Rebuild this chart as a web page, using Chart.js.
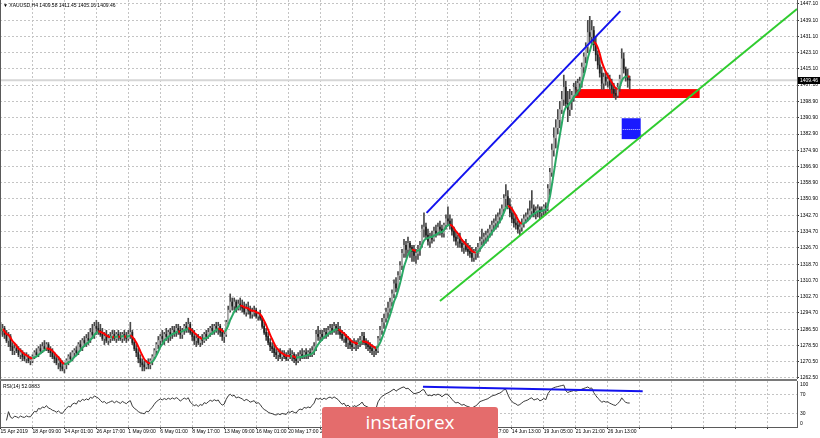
<!DOCTYPE html>
<html><head><meta charset="utf-8">
<script src="https://cdn.jsdelivr.net/npm/chart.js@4.4.1/dist/chart.umd.min.js"></script>
<style>
html,body{margin:0;padding:0;background:#fff;width:820px;height:438px;overflow:hidden;}
#wrap{position:relative;width:820px;height:438px;background:#fff;}
#cMain{position:absolute;left:0;top:0;width:820px;height:384px;}
#cRsi{position:absolute;left:0;top:379px;width:820px;height:59px;}
.lbl{position:absolute;font:5px "Liberation Sans",Arial,sans-serif;color:#000;white-space:nowrap;line-height:6px;}
#wm{position:absolute;left:322px;top:407px;width:176px;height:34px;background:#e46c6c;border-radius:3px;color:#fff;font:19px "Open Sans",sans-serif;text-align:center;line-height:31px;}
</style></head><body>
<div id="wrap">
<canvas id="cMain" width="820" height="384"></canvas>
<canvas id="cRsi" width="820" height="59"></canvas>
<div class="lbl" id="title" style="left:3px;top:2px;"></div>
<div class="lbl" id="rsiTitle" style="left:3px;top:383px;"></div>
<div id="wm">instaforex</div>
</div>
<script>
// ---------------- DATA ----------------
const symbol = "XAUUSD,H4";
const rsiCaption = "RSI(14) 52.0883";

const barClose = [
1286,1287,1284,1281,1283,1278,1276,1277,1276,1274,1275,1273,1272,1273,1271,1271,
1273,1275,1274,1277,1276,1278,1277,1279,1276,1275,1273,1272,1270,1271,1268,1267,
1269,1271,1273,1272,1275,1276,1275,1279,1278,1281,1280,1282,1281,1285,1284,1288,1287,1286,
1284,1282,1283,1281,1282,1283,1284,1282,1284,1283,1282,1284,1283,1282,1284,1285,1280,
1277,1275,1272,1270,1269,1268,1270,1269,1271,
1273,1276,1279,1281,1283,1282,1284,1283,1285,1284,1286,
1285,1287,1286,1284,1286,1288,1287,1289,1285,1283,1281,1282,1280,1282,1281,
1284,1283,1285,1287,1286,1288,1287,1288,1285,1283,1284,
1290,1296,1300,1298,1300,1297,1299,
1298,1297,1295,1297,1296,1294,1295,1296,1293,1294,1292,
1288,1285,1283,1280,1278,1277,1275,1274,1275,1273,1274,1273,1272,
1274,1273,1274,1272,1271,1273,1274,1273,1275,1274,1275,1274,1276,
1278,1284,1283,1284,1283,1285,1284,1286,1287,1286,1288,1287,1286,
1284,1282,1283,1280,1281,1279,1278,1280,1279,1280,
1281,1283,1280,1279,1278,1277,1276,1277,1276,
1282,1286,1290,1292,1295,1297,1300,1304,1309,1307,1313,1318,1324,1328,1326,1329,1327,1325,
1323,1324,1326,1328,1336,1337,1333,1330,1332,1331,1335,1334,1337,1336,1334,1338,1341,1340,1338,
1335,1332,1330,1331,1329,1327,1328,1326,1325,1324,1322,1324,1325,
1327,1330,1331,1332,1333,1334,1336,1338,1339,1340,1342,1343,1346,1351,1352,
1348,1344,1341,1339,1338,1336,1337,1339,1341,1342,1343,1345,1346,1344,1345,
1346,1344,1345,1347,1346,
1356,1364,1375,1381,1386,1390,1395,1400,1406,1398,1395,1400,
1402,1406,1405,1408,1409,1416,1421,1426,1433,1431,1434,1427,1422,1417,1413,
1408,1411,1409,1410,1407,1405,1403,1402,1406,1410,1420,1415,1411,1409.58,1409.46
];
const barHigh = [
1290,1289,1288,1286,1285,1284,1280,1279,1279,1278,1277,1276,1275,1275,1274,1273,
1274,1276,1277,1278,1279,1280,1281,1280,1280,1278,1277,1275,1274,1273,1272,1271,
1270,1272,1274,1275,1276,1277,1278,1280,1281,1282,1283,1284,1285,1287,1289,1290,1291,1290,
1289,1287,1285,1286,1284,1285,1286,1286,1285,1286,1285,1285,1286,1285,1286,1290,1286,
1282,1279,1277,1274,1272,1271,1271,1272,1272,
1274,1277,1280,1283,1284,1286,1285,1287,1286,1287,1288,
1288,1289,1289,1288,1287,1289,1290,1292,1290,1287,1286,1284,1284,1283,1284,
1285,1286,1287,1288,1289,1289,1290,1290,1289,1287,1285,
1291,1298,1304,1302,1302,1301,1301,
1302,1301,1300,1299,1300,1298,1297,1298,1297,1295,1296,
1293,1290,1287,1285,1282,1280,1279,1277,1276,1277,1276,1276,1275,
1276,1277,1276,1275,1274,1275,1276,1277,1276,1277,1276,1277,1278,
1280,1286,1288,1286,1286,1287,1287,1288,1289,1289,1290,1289,1290,
1288,1286,1285,1284,1283,1282,1281,1282,1281,1282,
1283,1285,1285,1282,1281,1280,1279,1278,1278,
1283,1288,1292,1294,1297,1300,1302,1306,1311,1312,1315,1320,1326,1331,1330,1332,1330,1328,
1328,1326,1328,1330,1338,1344,1339,1336,1334,1335,1337,1338,1339,1340,1338,1339,1343,1347,1343,
1341,1337,1335,1333,1334,1331,1330,1331,1329,1328,1327,1326,1327,
1329,1332,1336,1334,1335,1336,1338,1340,1341,1343,1344,1346,1348,1353,1358,
1355,1351,1347,1344,1343,1340,1339,1341,1343,1344,1346,1350,1355,1348,1347,
1348,1347,1347,1348,1349,
1358,1366,1378,1386,1390,1395,1399,1404,1412,1409,1404,1405,
1404,1408,1409,1410,1411,1418,1423,1428,1439,1441,1439,1436,1431,1424,1421,
1416,1413,1414,1413,1412,1410,1408,1406,1408,1412,1425,1423,1416,1415,1411.45
];
const barLow = [
1284,1283,1282,1280,1278,1276,1274,1274,1275,1273,1272,1271,1271,1270,1270,1269,
1270,1272,1273,1273,1275,1275,1276,1276,1275,1273,1272,1270,1269,1267,1266,1266,
1265,1267,1269,1271,1271,1273,1274,1274,1276,1276,1278,1278,1279,1280,1282,1282,1284,1284,
1283,1281,1279,1280,1279,1280,1281,1281,1280,1281,1281,1280,1281,1280,1281,1282,1279,
1276,1273,1270,1268,1266,1266,1267,1267,1267,
1269,1272,1274,1277,1278,1280,1279,1281,1280,1281,1282,
1283,1283,1284,1282,1282,1284,1285,1285,1284,1281,1279,1278,1279,1278,1279,
1280,1281,1282,1283,1284,1284,1285,1284,1283,1281,1280,
1283,1289,1295,1296,1296,1295,1296,
1296,1295,1294,1293,1294,1292,1292,1293,1292,1291,1291,
1287,1284,1281,1279,1276,1275,1273,1272,1271,1272,1271,1272,1271,
1271,1272,1271,1270,1269,1270,1271,1272,1272,1272,1272,1273,1273,
1274,1276,1281,1280,1281,1282,1282,1283,1284,1284,1285,1284,1284,
1282,1281,1280,1278,1277,1277,1276,1277,1276,1277,
1278,1279,1279,1277,1276,1275,1274,1273,1274,
1275,1281,1284,1287,1290,1292,1295,1298,1302,1305,1306,1311,1316,1322,1322,1324,1322,1320,
1320,1319,1321,1323,1327,1332,1331,1328,1327,1329,1330,1332,1333,1333,1332,1332,1336,1338,1336,
1333,1330,1328,1327,1327,1325,1324,1325,1323,1322,1320,1320,1321,
1322,1325,1328,1328,1329,1330,1332,1333,1335,1336,1337,1339,1341,1344,1347,
1346,1342,1339,1337,1336,1334,1333,1335,1337,1339,1340,1341,1342,1342,1341,
1342,1341,1342,1343,1343,
1345,1353,1362,1372,1376,1383,1386,1393,1397,1396,1389,1392,
1395,1399,1402,1402,1404,1406,1413,1418,1423,1428,1427,1424,1419,1415,1411,
1405,1405,1407,1406,1405,1403,1401,1400,1401,1404,1410,1413,1409,1406,1405.16
];

const priceTicks = [1447.10,1439.10,1431.10,1423.10,1415.10,1407.10,1398.90,1390.90,1382.90,1374.90,1366.90,1358.90,
  1350.90,1342.70,1334.70,1326.70,1318.70,1310.70,1302.70,1294.70,1286.50,1278.50,1270.50,1262.50];
const dateLabels = ["15 Apr 2019","18 Apr 09:00","24 Apr 01:00","26 Apr 17:00","1 May 09:00","6 May 01:00","8 May 17:00",
  "13 May 09:00","16 May 01:00","20 May 17:00","23 May 09:00","28 May 01:00","30 May 17:00","4 Jun 09:00","7 Jun 01:00",
  "11 Jun 17:00","14 Jun 13:00","19 Jun 05:00","21 Jun 21:00","26 Jun 13:00"];
const labelEvery = 16;            // bars between date labels / vertical grid lines
const rsiLevels = [30, 70];
const rsiLabelText = ["0","30","70","100"];
const rsiLabelAt  = [6.5, 30, 70, 91.3];   // where the panel prints its level captions
const rsiFirstBar = 3;                     // the RSI curve is shown once enough bars exist

// drawn objects (bar index, price)
const blueChannel = [[213.3, 1344.0], [310.3, 1443.6]];
const greenSupport = [[220.0, 1300.5], [398.75, 1444.6]];
const redZone  = {x0: 287.5, x1: 350.0, p0: 1400.7, p1: 1405.1};
const blueZone = {x0: 311.0, x1: 320.5, p0: 1380.4, p1: 1390.7};
const rsiDivergence = [[211.5, 87.3], [321.5, 77.6]];

// ---------------- helpers ----------------
const N = barClose.length;
const X_MIN = -0.25, X_MAX = 398.75;
const barOpen = barClose.map((c,i)=> i===0 ? barClose[0] : barClose[i-1]);
function lwma(arr,n){return arr.map((_,i)=>{let s=0,w=0;for(let k=0;k<n&&i-k>=0;k++){const wt=n-k;s+=arr[i-k]*wt;w+=wt;}return s/w;});}
function rsiCalc(arr,n){const out=[null];let ag=0,al=0;for(let i=1;i<arr.length;i++){const d=arr[i]-arr[i-1];const g=Math.max(d,0),l=Math.max(-d,0);
  if(i<=n){ag=(ag*(i-1)+g)/i;al=(al*(i-1)+l)/i;}else{ag=(ag*(n-1)+g)/n;al=(al*(n-1)+l)/n;}
  out.push(al===0?100:100-100/(1+ag/al));}return out;}
const ma = lwma(barClose, 8);
const rsi = rsiCalc(barClose, 14);
const last = N-1;
document.getElementById('title').textContent = "\u25BC " + symbol + " " + barOpen[last].toFixed(2) + " " + barHigh[last].toFixed(2) + " " + barLow[last].toFixed(2) + " " + barClose[last].toFixed(2);
document.getElementById('rsiTitle').textContent = rsiCaption;

const gridBars = []; for(let b=0;b<=X_MAX;b+=labelEvery) gridBars.push(b);
const FONT = {size:5, family:"'Liberation Sans', Arial, sans-serif"};
const GRID = '#c4c4c4';
const GREEN_MA = '#2aa865', RED_MA = '#ff0000';

const wicks = barClose.map((c,i)=>({x:i, y:[Math.min(barLow[i],barOpen[i],c), Math.max(barHigh[i],barOpen[i],c)]}));
const bodies = barClose.map((c,i)=>({x:i, y:[barOpen[i], c]}));
const bodyColors = barClose.map((c,i)=> c>=barOpen[i] ? '#b4b4b4' : '#1e1e1e');

const zonePlugin = {
  id:'zones',
  beforeDatasetsDraw(chart){
    const {ctx, scales:{x,y}} = chart;
    ctx.save();
    const rect=(z,col)=>{const l=x.getPixelForValue(z.x0), r=x.getPixelForValue(z.x1), t=y.getPixelForValue(z.p1), b=y.getPixelForValue(z.p0);
      ctx.fillStyle=col; ctx.fillRect(l,t,r-l,b-t); return {l,r,t,b};};
    rect(redZone,'#ff0000');
    const bz = rect(blueZone,'#1a1aff');
    ctx.strokeStyle='rgba(255,255,255,0.8)'; ctx.setLineDash([1,1]); ctx.lineWidth=1;
    ctx.beginPath(); const my=Math.round((bz.t+bz.b)/2)+0.5; ctx.moveTo(bz.l+1,my); ctx.lineTo(bz.r-1,my); ctx.stroke();
    ctx.restore();
  },
  afterDraw(chart){
    const {ctx, scales:{y}, chartArea:a} = chart;
    ctx.save();
    ctx.fillStyle='#5a5a5a'; ctx.fillRect(0,a.top,1,a.bottom-a.top);
    const py = Math.round(y.getPixelForValue(barClose[last]));
    ctx.fillStyle='#000'; ctx.fillRect(a.right+1, py-3, 22, 7);
    ctx.fillStyle='#fff'; ctx.font="5px 'Liberation Sans', Arial, sans-serif"; ctx.textBaseline='middle';
    ctx.fillText(barClose[last].toFixed(2), a.right+3, py+0.5);
    ctx.restore();
  }
};

new Chart(document.getElementById('cMain'), {
  type:'bar',
  data:{datasets:[
    {type:'line', data:[{x:X_MIN,y:barClose[last]},{x:X_MAX,y:barClose[last]}], borderColor:'#d6d6d6', borderWidth:2, pointRadius:0, order:20},
    {type:'bar', data:wicks, backgroundColor:'#484848', barThickness:1, grouped:false, order:15},
    {type:'bar', data:bodies, backgroundColor:bodyColors, barThickness:1, grouped:false, minBarLength:1, order:14},
    {type:'line', data:ma.map((v,i)=>({x:i,y:v})), borderWidth:2, pointRadius:0, tension:0.3,
      segment:{borderColor: c => c.p1.parsed.y >= c.p0.parsed.y ? GREEN_MA : RED_MA}, borderColor:GREEN_MA, order:10},
    {type:'line', data:blueChannel.map(p=>({x:p[0],y:p[1]})), borderColor:'#1212ee', borderWidth:2, pointRadius:0, order:5},
    {type:'line', data:greenSupport.map(p=>({x:p[0],y:p[1]})), borderColor:'#2fcc2f', borderWidth:2, pointRadius:0, order:4}
  ]},
  options:{
    responsive:false, animation:false, events:[],
    layout:{padding:{left:0,right:0,top:0,bottom:5}},
    plugins:{legend:{display:false}, tooltip:{enabled:false}},
    scales:{
      x:{type:'linear', min:X_MIN, max:X_MAX, offset:false,
        afterBuildTicks:s=>{s.ticks=gridBars.map(v=>({value:v}));},
        afterFit:s=>{s.height=0; s.paddingLeft=0; s.paddingRight=0;},
        ticks:{display:false},
        grid:{color:GRID, drawTicks:false, offset:false},
        border:{display:false, dash:[2,2]}},
      y:{type:'linear', position:'right', min:1262.0, max:1449.07,
        afterBuildTicks:s=>{s.ticks=priceTicks.map(v=>({value:v}));},
        afterFit:s=>{s.width=23; s.paddingTop=0; s.paddingBottom=0;},
        ticks:{font:FONT, color:'#000', padding:1, autoSkip:false, callback:v=>Number(v).toFixed(2)},
        grid:{color:GRID, tickLength:2, tickColor:'#333', tickBorderDash:[]},
        border:{display:true, color:'#5a5a5a', dash:[2,2]}}
    }
  },
  plugins:[zonePlugin]
});

const rsiPlugin = {
  id:'rsiFrame',
  beforeDraw(chart){
    const {ctx, chartArea:a} = chart;
    ctx.save(); ctx.fillStyle='#fff'; ctx.fillRect(0,0,chart.width,chart.height);
    ctx.fillStyle='#7a7a7a'; ctx.fillRect(0,0,a.right,2);
    ctx.restore();
  },
  afterDraw(chart){
    const {ctx, chartArea:a} = chart;
    ctx.save(); ctx.fillStyle='#5a5a5a'; ctx.fillRect(0,a.top,1,a.bottom-a.top); ctx.restore();
  }
};

new Chart(document.getElementById('cRsi'), {
  type:'line',
  data:{datasets:[
    {data:rsi.map((v,i)=>({x:i,y:i<rsiFirstBar?null:v})), borderColor:'#3a3a3a', borderWidth:1, pointRadius:0, spanGaps:false, order:2},
    {data:rsiDivergence.map(p=>({x:p[0],y:p[1]})), borderColor:'#1212ee', borderWidth:2, pointRadius:0, order:1}
  ]},
  options:{
    responsive:false, animation:false, events:[],
    layout:{padding:{left:0,right:0,top:2,bottom:0}},
    plugins:{legend:{display:false}, tooltip:{enabled:false}},
    scales:{
      x:{type:'linear', min:X_MIN, max:X_MAX, offset:false,
        afterBuildTicks:s=>{s.ticks=gridBars.map(v=>({value:v}));},
        afterFit:s=>{s.height=11; s.paddingLeft=0; s.paddingRight=0;},
        ticks:{font:FONT, color:'#000', padding:0, autoSkip:false, maxRotation:0, minRotation:0, align:'start',
          callback:(v)=>{const k=Math.round(v/labelEvery); return dateLabels[k]||'';}},
        grid:{color:GRID, tickLength:2, tickColor:'#333', tickBorderDash:[], offset:false},
        border:{display:true, color:'#5a5a5a', dash:[2,2]}},
      y:{type:'linear', position:'right', min:0, max:100,
        afterBuildTicks:s=>{s.ticks=rsiLabelAt.map(v=>({value:v}));},
        afterFit:s=>{s.width=23; s.paddingTop=0; s.paddingBottom=0;},
        ticks:{font:FONT, color:'#000', padding:3, autoSkip:false,
          callback:(v,i)=>rsiLabelText[i]},
        grid:{color:c=> rsiLevels.includes(c.tick && c.tick.value) ? GRID : 'rgba(0,0,0,0)', drawTicks:false},
        border:{display:true, color:'#5a5a5a', dash:[2,2]}}
    }
  },
  plugins:[rsiPlugin]
});
</script>
</body></html>
